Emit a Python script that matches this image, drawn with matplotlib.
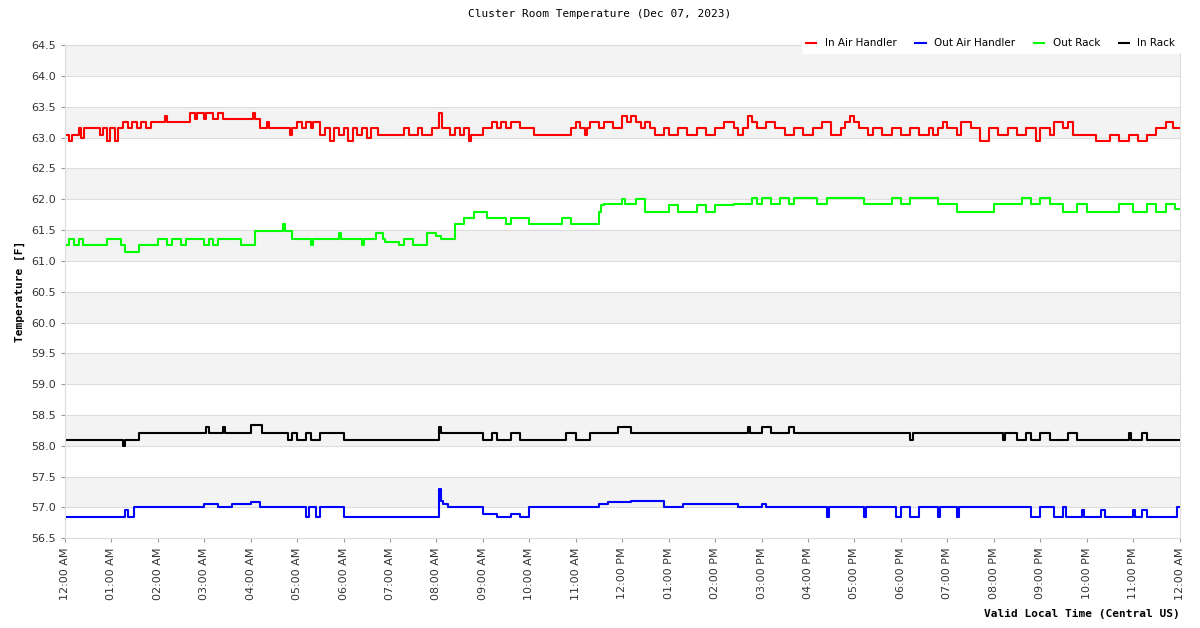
import matplotlib
matplotlib.use("Agg")
import matplotlib.pyplot as plt
import numpy as np

# change points: hours since midnight, value (step 'post')
red_t = [0,0.1,0.15,0.3,0.35,0.42,0.75,0.82,0.9,0.98,1.08,1.15,1.25,1.35,1.45,1.55,1.65,1.75,1.85,2.0,2.15,2.2,2.7,2.8,2.85,3.0,3.05,3.2,3.3,3.4,4.05,4.1,4.2,4.35,4.4,4.85,4.9,5.0,5.1,5.2,5.3,5.35,5.5,5.6,5.7,5.8,5.9,6.0,6.1,6.2,6.3,6.4,6.5,6.6,6.75,7.0,7.3,7.4,7.6,7.7,7.9,8.05,8.12,8.3,8.4,8.5,8.6,8.7,8.75,9.0,9.2,9.3,9.4,9.5,9.6,9.8,10.1,10.5,10.9,11.0,11.1,11.2,11.25,11.3,11.5,11.6,11.8,12.0,12.1,12.2,12.3,12.4,12.5,12.6,12.7,12.9,13.0,13.2,13.4,13.6,13.8,14.0,14.2,14.4,14.5,14.6,14.7,14.8,14.9,15.1,15.3,15.5,15.7,15.9,16.1,16.3,16.5,16.7,16.8,16.9,17.0,17.1,17.3,17.4,17.6,17.8,18.0,18.2,18.4,18.6,18.7,18.8,18.9,19.0,19.2,19.3,19.5,19.7,19.9,20.1,20.3,20.5,20.7,20.9,21.0,21.2,21.3,21.5,21.6,21.7,21.9,22.2,22.5,22.7,22.9,23.1,23.3,23.5,23.7,23.85,23.9]
red_v = [63.05,62.95,63.05,63.15,63.0,63.15,63.05,63.15,62.95,63.15,62.95,63.15,63.25,63.15,63.25,63.15,63.25,63.15,63.25,63.25,63.35,63.25,63.4,63.3,63.4,63.3,63.4,63.3,63.4,63.3,63.4,63.3,63.15,63.25,63.15,63.05,63.15,63.25,63.15,63.25,63.15,63.25,63.05,63.15,62.95,63.15,63.05,63.15,62.95,63.15,63.05,63.15,63.0,63.15,63.05,63.05,63.15,63.05,63.15,63.05,63.15,63.4,63.15,63.05,63.15,63.05,63.15,62.95,63.05,63.15,63.25,63.15,63.25,63.15,63.25,63.15,63.05,63.05,63.15,63.25,63.15,63.05,63.15,63.25,63.15,63.25,63.15,63.35,63.25,63.35,63.25,63.15,63.25,63.15,63.05,63.15,63.05,63.15,63.05,63.15,63.05,63.15,63.25,63.15,63.05,63.15,63.35,63.25,63.15,63.25,63.15,63.05,63.15,63.05,63.15,63.25,63.05,63.15,63.25,63.35,63.25,63.15,63.05,63.15,63.05,63.15,63.05,63.15,63.05,63.15,63.05,63.15,63.25,63.15,63.05,63.25,63.15,62.95,63.15,63.05,63.15,63.05,63.15,62.95,63.15,63.05,63.25,63.15,63.25,63.05,63.05,62.95,63.05,62.95,63.05,62.95,63.05,63.15,63.25,63.15,63.15]

green_t = [0,0.1,0.2,0.3,0.4,0.55,0.9,1.2,1.3,1.5,1.6,2.0,2.2,2.3,2.5,2.6,2.8,3.0,3.1,3.2,3.3,3.5,3.8,4.1,4.7,4.75,4.9,5.3,5.35,5.9,5.95,6.0,6.4,6.45,6.7,6.85,6.9,7.2,7.3,7.5,7.8,8.0,8.1,8.4,8.6,8.8,9.1,9.5,9.6,9.7,10.0,10.7,10.9,11.0,11.5,11.55,11.6,12.0,12.05,12.3,12.5,12.6,13.0,13.2,13.6,13.8,14.0,14.4,14.8,14.9,15.0,15.2,15.4,15.6,15.7,16.0,16.2,16.4,16.6,17.2,17.5,17.8,18.0,18.2,18.5,18.8,19.0,19.2,19.6,20.0,20.6,20.8,21.0,21.2,21.5,21.8,22.0,22.7,23.0,23.3,23.5,23.7,23.9]
green_v = [61.25,61.35,61.25,61.35,61.25,61.25,61.35,61.25,61.15,61.15,61.25,61.35,61.25,61.35,61.25,61.35,61.35,61.25,61.35,61.25,61.35,61.35,61.25,61.48,61.6,61.48,61.35,61.25,61.35,61.45,61.35,61.35,61.25,61.35,61.45,61.35,61.3,61.25,61.35,61.25,61.45,61.4,61.35,61.6,61.7,61.8,61.7,61.6,61.7,61.7,61.6,61.7,61.6,61.6,61.8,61.9,61.92,62.0,61.92,62.0,61.8,61.8,61.9,61.8,61.9,61.8,61.9,61.92,62.02,61.92,62.02,61.92,62.02,61.92,62.02,62.02,61.92,62.02,62.02,61.92,61.92,62.02,61.92,62.02,62.02,61.92,61.92,61.8,61.8,61.92,62.02,61.92,62.02,61.92,61.8,61.92,61.8,61.92,61.8,61.92,61.8,61.92,61.85]

black_t = [0,1.25,1.3,1.6,1.8,3.05,3.1,3.4,3.45,4.0,4.25,4.8,4.9,5.0,5.2,5.3,5.5,6.0,8.05,8.1,9.0,9.2,9.3,9.6,9.8,10.0,10.8,11.0,11.3,11.9,12.2,14.7,14.75,15.0,15.2,15.6,15.7,18.2,18.25,20.2,20.25,20.5,20.7,20.8,21.0,21.2,21.6,21.8,22.0,22.9,22.95,23.2,23.3]
black_v = [58.1,58.0,58.1,58.2,58.2,58.3,58.2,58.3,58.2,58.33,58.2,58.1,58.2,58.1,58.2,58.1,58.2,58.1,58.3,58.2,58.1,58.2,58.1,58.2,58.1,58.1,58.2,58.1,58.2,58.3,58.2,58.3,58.2,58.3,58.2,58.3,58.2,58.1,58.2,58.1,58.2,58.1,58.2,58.1,58.2,58.1,58.2,58.1,58.1,58.2,58.1,58.2,58.1]

blue_t = [0,1.3,1.35,1.5,1.55,3.0,3.3,3.6,4.0,4.2,5.2,5.25,5.4,5.5,6.0,6.2,8.05,8.1,8.15,8.25,9.0,9.3,9.6,9.8,10.0,11.5,11.7,12.2,12.9,13.3,14.5,15.0,15.1,16.4,16.45,17.2,17.25,17.9,18.0,18.2,18.4,18.8,18.85,19.2,19.25,20.8,21.0,21.3,21.5,21.55,21.9,21.95,22.3,22.4,23.0,23.05,23.2,23.3,23.95]
blue_v = [56.85,56.95,56.85,57.0,57.0,57.05,57.0,57.05,57.08,57.0,56.85,57.0,56.85,57.0,56.85,56.85,57.3,57.1,57.05,57.0,56.9,56.85,56.9,56.85,57.0,57.05,57.08,57.1,57.0,57.05,57.0,57.05,57.0,56.85,57.0,56.85,57.0,56.85,57.0,56.85,57.0,56.85,57.0,56.85,57.0,56.85,57.0,56.85,57.0,56.85,56.95,56.85,56.95,56.85,56.95,56.85,56.95,56.85,57.0]

series = [("In Air Handler", red_t, red_v, "#ff0000"),
          ("Out Air Handler", blue_t, blue_v, "#0000ff"),
          ("Out Rack", green_t, green_v, "#00ff00"),
          ("In Rack", black_t, black_v, "#000000")]

hour_labels = ["12:00 AM"] + [f"{h:02d}:00 AM" for h in range(1, 12)] + ["12:00 PM"] + \
              [f"{h:02d}:00 PM" for h in range(1, 12)] + ["12:00 AM"]
y_ticks = [56.5 + 0.5 * i for i in range(17)]

fig = plt.figure(figsize=(12, 6.28), dpi=100)
ax = fig.add_axes([0.054, 0.143, 0.929, 0.785])
for k in range(57, 65):
    ax.axhspan(k, k + 0.5, color="#f3f3f3", zorder=0, lw=0)
for y in y_ticks:
    ax.axhline(y, color="#dddddd", lw=0.8, zorder=0.5)
for name, t, v, c in series:
    n = min(len(t), len(v))
    tt = list(t[:n]) + [24]
    vv = list(v[:n]) + [v[n - 1]]
    ax.step(tt, vv, where="post", color=c, lw=1.5, label=name, zorder=2)
ax.set_xlim(0, 24)
ax.set_ylim(56.5, 64.5)
ax.set_yticks(y_ticks)
ax.set_yticklabels([f"{y:.1f}" for y in y_ticks], fontsize=8, color="#333333")
ax.set_xticks(range(25))
ax.set_xticklabels(hour_labels, rotation=90, fontsize=8, color="#333333")
for s in ax.spines.values():
    s.set_color("#dddddd")
ax.tick_params(length=3, color="#999999")
ax.set_ylabel("Temperature [F]", family="DejaVu Sans Mono", fontsize=8, fontweight="bold")
fig.text(0.983, 0.018, "Valid Local Time (Central US)", family="DejaVu Sans Mono",
         fontsize=8, fontweight="bold", ha="right")
fig.suptitle("Cluster Room Temperature (Dec 07, 2023)", family="DejaVu Sans Mono",
             fontsize=8, y=0.985)
leg = ax.legend(loc="lower right", bbox_to_anchor=(1.0, 0.985), ncol=4, fontsize=7.5,
                frameon=True, facecolor="white", edgecolor="white", framealpha=1,
                handlelength=1, columnspacing=1.8, borderaxespad=0, handletextpad=0.8)
leg.set_zorder(5)
fig.savefig("out.png")
